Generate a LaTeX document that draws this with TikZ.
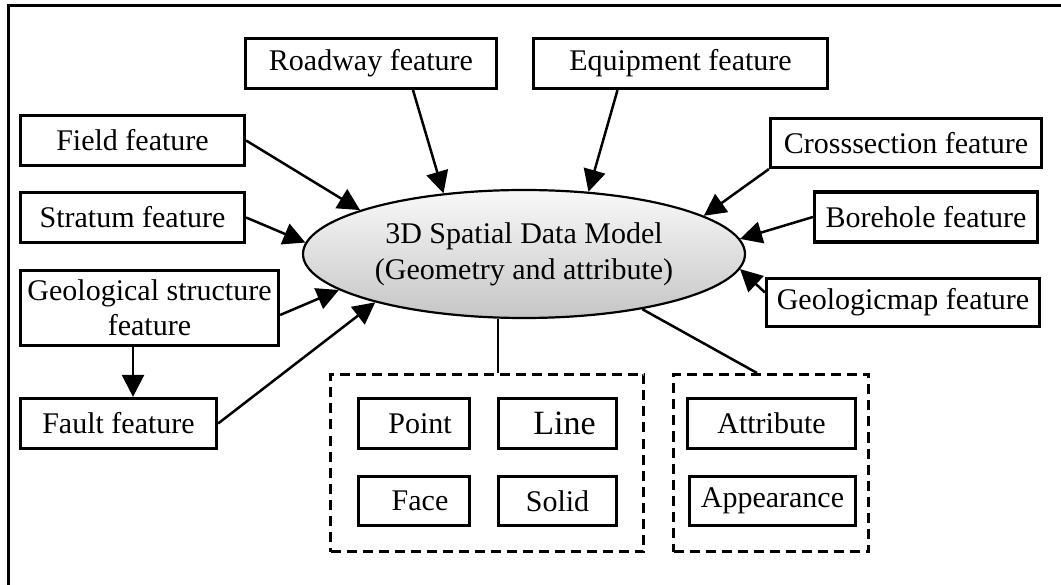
\documentclass[tikz,border=0pt]{standalone}
\usepackage{fontspec}
\setmainfont{Liberation Serif}
\usetikzlibrary{arrows.meta,shapes.geometric}
\begin{document}
\begin{tikzpicture}[x=1pt,y=-1pt,
  box/.style={draw,line width=3.2pt,inner sep=0pt,minimum height=#1,font=\fontsize{30}{35}\selectfont,align=center},
  box/.default=50pt,
  grp/.style={draw,line width=3pt,dash pattern=on 10pt off 6pt,inner sep=0pt},
  arr/.style={line width=2.5pt,-{Triangle[length=22pt,width=22pt]}},
  con/.style={line width=2.5pt}]
\useasboundingbox (0,0) rectangle (1061,585);
\begin{scope}
\clip (0,0) rectangle (1061,585);
\draw[line width=3pt] (8.5,600) -- (8.5,6) -- (1080,6);
\end{scope}
% groups
\node[grp,minimum width=313pt,minimum height=177pt] (g1) at (487,463) {};
\node[grp,minimum width=195pt,minimum height=177pt] (g2) at (771,463) {};
% ellipse
\node[ellipse,draw,line width=2.2pt,minimum width=442pt,minimum height=128pt,inner sep=0pt,
  top color=gray!5,bottom color=gray!45,font=\fontsize{30}{36}\selectfont,align=center] (ell) at (524,254)
  {3D Spatial Data Model\\(Geometry and attribute)};
% boxes
\node[box,minimum width=251pt] (rd) at (371,63.5) {Roadway feature};
\node[box,minimum width=294pt] (eq) at (680.5,63.5) {Equipment feature};
\node[box,minimum width=224pt] (fld) at (132.5,140.5) {Field feature};
\node[box,minimum width=224pt] (st) at (132.5,217.5) {Stratum feature};
\node[box=75pt,minimum width=258pt] (geo) at (149.5,308) {Geological structure\\feature};
\node[box,minimum width=196pt] (flt) at (118.5,423.5) {Fault feature};
\node[box=49pt,minimum width=271pt] (cs) at (906,143) {Crosssection feature};
\node[box,minimum width=223pt] (bh) at (926,217) {Borehole feature};
\node[box=48pt,minimum width=273pt] (gm) at (903,302.5) {Geologicmap feature};
\node[box,minimum width=111pt] (pt) at (414,423.5) {\hspace*{12pt}Point};
\node[box=49pt,minimum width=111pt] (fc) at (414,501) {\hspace*{12pt}Face};
\node[box,minimum width=118pt,font=\fontsize{34}{40}\selectfont] (ln) at (557.5,423.5) {\hspace*{14pt}Line};
\node[box=49pt,minimum width=118pt] (sd) at (557.5,501) {Solid};
\node[box,minimum width=168pt] (at) at (771.5,423.5) {Attribute};
\node[box=49pt,minimum width=166pt] (ap) at (772.5,501) {Appearance};
% arrows
\draw[arr] ([xshift=42pt]rd.south) -- (ell.143);
\draw[arr] ([xshift=-63pt]eq.south) -- (ell.44);
\draw[arr] (fld.east) -- (ell.165);
\draw[arr] (st.east) -- (ell.177);
\draw[arr] ([yshift=-7pt]geo.east) -- (ell.191);
\draw[arr] (flt.east) -- (ell.198);
\draw[arr] (cs.south west) -- (ell.12);
\draw[arr] (bh.west) -- (ell.4);
\draw[arr] ([yshift=10pt]gm.west) -- (ell.356);
\draw[arr] ([xshift=-16.5pt]geo.south) -- ([xshift=-16.5pt]geo.south |- flt.north);
% connections to groups
\draw[con] (ell.248) -- (ell.248 |- g1.north);
\coordinate (g2in) at ([xshift=-14pt]g2.north);
\draw[con] (ell.335) -- (g2in);
\end{tikzpicture}
\end{document}
